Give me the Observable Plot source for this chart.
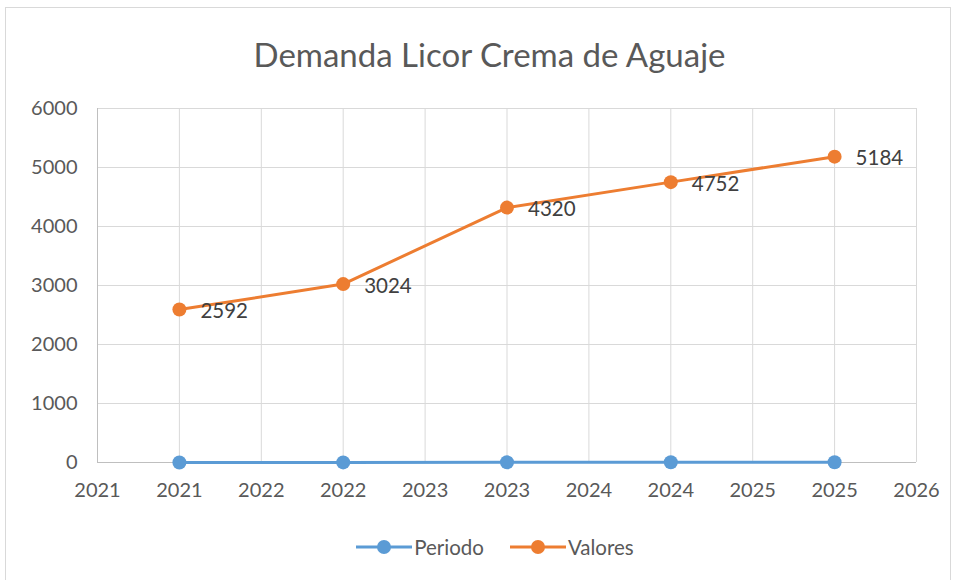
<!DOCTYPE html>
<html><head><meta charset="utf-8">
<script src="https://cdn.jsdelivr.net/npm/d3@7"></script>
<script src="https://cdn.jsdelivr.net/npm/@observablehq/plot@0.6"></script>
<style>
body{margin:0;background:#fff;font-family:Lato,"Open Sans",sans-serif;}
#wrap{position:relative;width:959px;height:580px;overflow:hidden;}
#frame{position:absolute;left:5px;top:7px;width:946px;height:575px;border:1px solid #d9d9d9;box-sizing:border-box;}
#title{position:absolute;left:0;top:34px;width:979px;text-align:center;font-size:33px;line-height:40px;color:#595959;}
#chart{position:absolute;left:0;top:90px;}
#legend{position:absolute;left:0;top:534px;width:990px;display:flex;justify-content:center;gap:26px;font-size:20.5px;color:#595959;line-height:26px;}
#legend span{display:flex;align-items:center;}
</style></head>
<body>
<div id="wrap">
<div id="frame"></div>
<div id="title">Demanda Licor Crema de Aguaje</div>
<div id="chart"></div>
<div id="legend"></div>
</div>
<script>
const years = [2021, 2022, 2023, 2024, 2025];
const periodo = [1, 2, 3, 4, 5];
const valores = [2592, 3024, 4320, 4752, 5184];
const seriesNames = ["Periodo", "Valores"];
const seriesColors = ["#5b9bd5", "#ed7d31"];
const xTicks = [2020.5, 2021, 2021.5, 2022, 2022.5, 2023, 2023.5, 2024, 2024.5, 2025, 2025.5];
const xTickLabels = ["2021","2021","2022","2022","2023","2023","2024","2024","2025","2025","2026"];
const yTicks = [0, 1000, 2000, 3000, 4000, 5000, 6000];

const data = years.map((y, i) => ({year: y, periodo: periodo[i], valores: valores[i]}));

const chart = Plot.plot({
  width: 959, height: 440,
  marginLeft: 97, marginRight: 43, marginTop: 18, marginBottom: 68,
  x: {domain: [2020.5, 2025.5]},
  y: {domain: [0, 6000]},
  style: {fontFamily: "Lato, 'Open Sans', sans-serif", fontSize: "20px", color: "#595959", background: "transparent"},
  marks: [
    Plot.gridX(xTicks, {stroke: "#d9d9d9", strokeOpacity: 1}),
    Plot.gridY(yTicks, {stroke: "#d9d9d9", strokeOpacity: 1}),
    Plot.ruleX([2020.5], {stroke: "#bfbfbf"}),
    Plot.ruleY([0], {stroke: "#bfbfbf"}),
    Plot.axisX({ticks: xTicks, tickSize: 0, tickPadding: 20, tickFormat: d => xTickLabels[xTicks.indexOf(d)], label: null, fill: "#595959"}),
    Plot.axisY({ticks: yTicks, tickSize: 0, tickPadding: 20, tickFormat: d => String(d), label: null, fill: "#595959"}),
    Plot.line(data, {x: "year", y: "periodo", stroke: seriesColors[0], strokeWidth: 3}),
    Plot.dot(data, {x: "year", y: "periodo", r: 7, fill: seriesColors[0]}),
    Plot.line(data, {x: "year", y: "valores", stroke: seriesColors[1], strokeWidth: 3}),
    Plot.dot(data, {x: "year", y: "valores", r: 7, fill: seriesColors[1]}),
    Plot.text(data, {x: "year", y: "valores", text: d => String(d.valores), dx: 21, dy: 2, textAnchor: "start", fill: "#404040", fontSize: 20.5})
  ]
});
document.getElementById("chart").appendChild(chart);

const legend = document.getElementById("legend");
seriesNames.forEach((name, i) => {
  const s = document.createElement("span");
  s.innerHTML = `<svg width="56" height="16" style="margin-right:2px"><line x1="0" x2="56" y1="8" y2="8" stroke="${seriesColors[i]}" stroke-width="3"/><circle cx="28" cy="8" r="7" fill="${seriesColors[i]}"/></svg>${name}`;
  legend.appendChild(s);
});
</script>
</body></html>
